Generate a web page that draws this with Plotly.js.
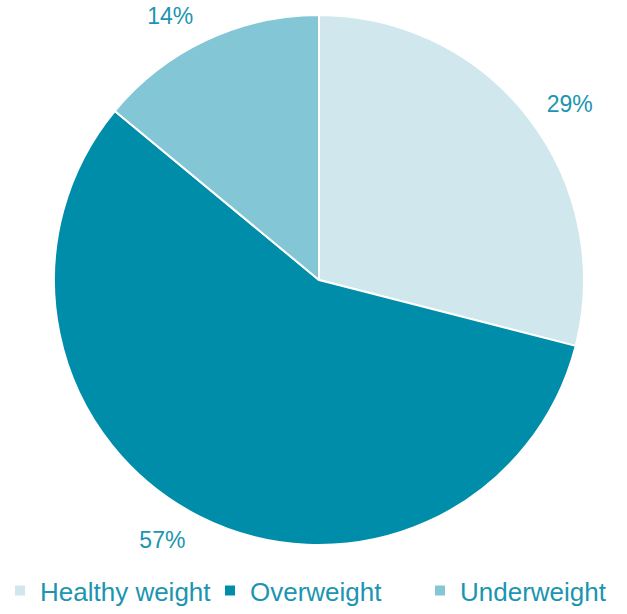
<!DOCTYPE html>
<html><head><meta charset="utf-8">
<script src="https://cdn.plot.ly/plotly-3.0.1.min.js"></script>
<style>html,body{margin:0;padding:0;background:#fff;}#chart{width:627px;height:614px;}</style>
</head><body><div id="chart"></div>
<script>
const categories = ["Healthy weight", "Overweight", "Underweight"];
const shares = [29, 57, 14];
const sliceColors = ["#cfe7ed", "#008da9", "#83c6d5"];
const textColor = "#1b95b0";
const fontFamily = "Liberation Sans, Arial, sans-serif";

// Main pie (slices)
const pieTrace = {
  type: "pie",
  labels: categories,
  values: shares,
  sort: false,
  direction: "clockwise",
  rotation: 0,
  marker: {colors: sliceColors, line: {color: "#ffffff", width: 2}},
  textinfo: "none",
  hoverinfo: "label+percent",
  domain: {x: [0.0861, 0.9314], y: [0.1124, 0.9756]}
};

// Same data, invisible wedges, used only to place the percentage labels a bit further out
const labelTrace = {
  type: "pie",
  labels: categories,
  values: shares,
  sort: false,
  direction: "clockwise",
  rotation: 0,
  showlegend: false,
  marker: {colors: ["rgba(0,0,0,0)", "rgba(0,0,0,0)", "rgba(0,0,0,0)"], line: {width: 0}},
  texttemplate: "%{value}%",
  textposition: "outside",
  outsidetextfont: {family: fontFamily, size: 23, color: textColor},
  hoverinfo: "skip",
  domain: {x: [0.0622, 0.9553], y: [0.0879, 1.0]}
};

const layout = {
  width: 627, height: 614,
  margin: {l: 0, r: 0, t: 0, b: 0, autoexpand: false},
  paper_bgcolor: "#ffffff",
  showlegend: true,
  legend: {
    orientation: "h",
    x: 0, xanchor: "left",
    y: 0, yanchor: "bottom",
    font: {family: fontFamily, size: 26, color: textColor},
    entrywidth: 165,
    traceorder: "normal"
  }
};
Plotly.newPlot("chart", [labelTrace, pieTrace], layout, {displayModeBar: false, staticPlot: true});
</script></body></html>
